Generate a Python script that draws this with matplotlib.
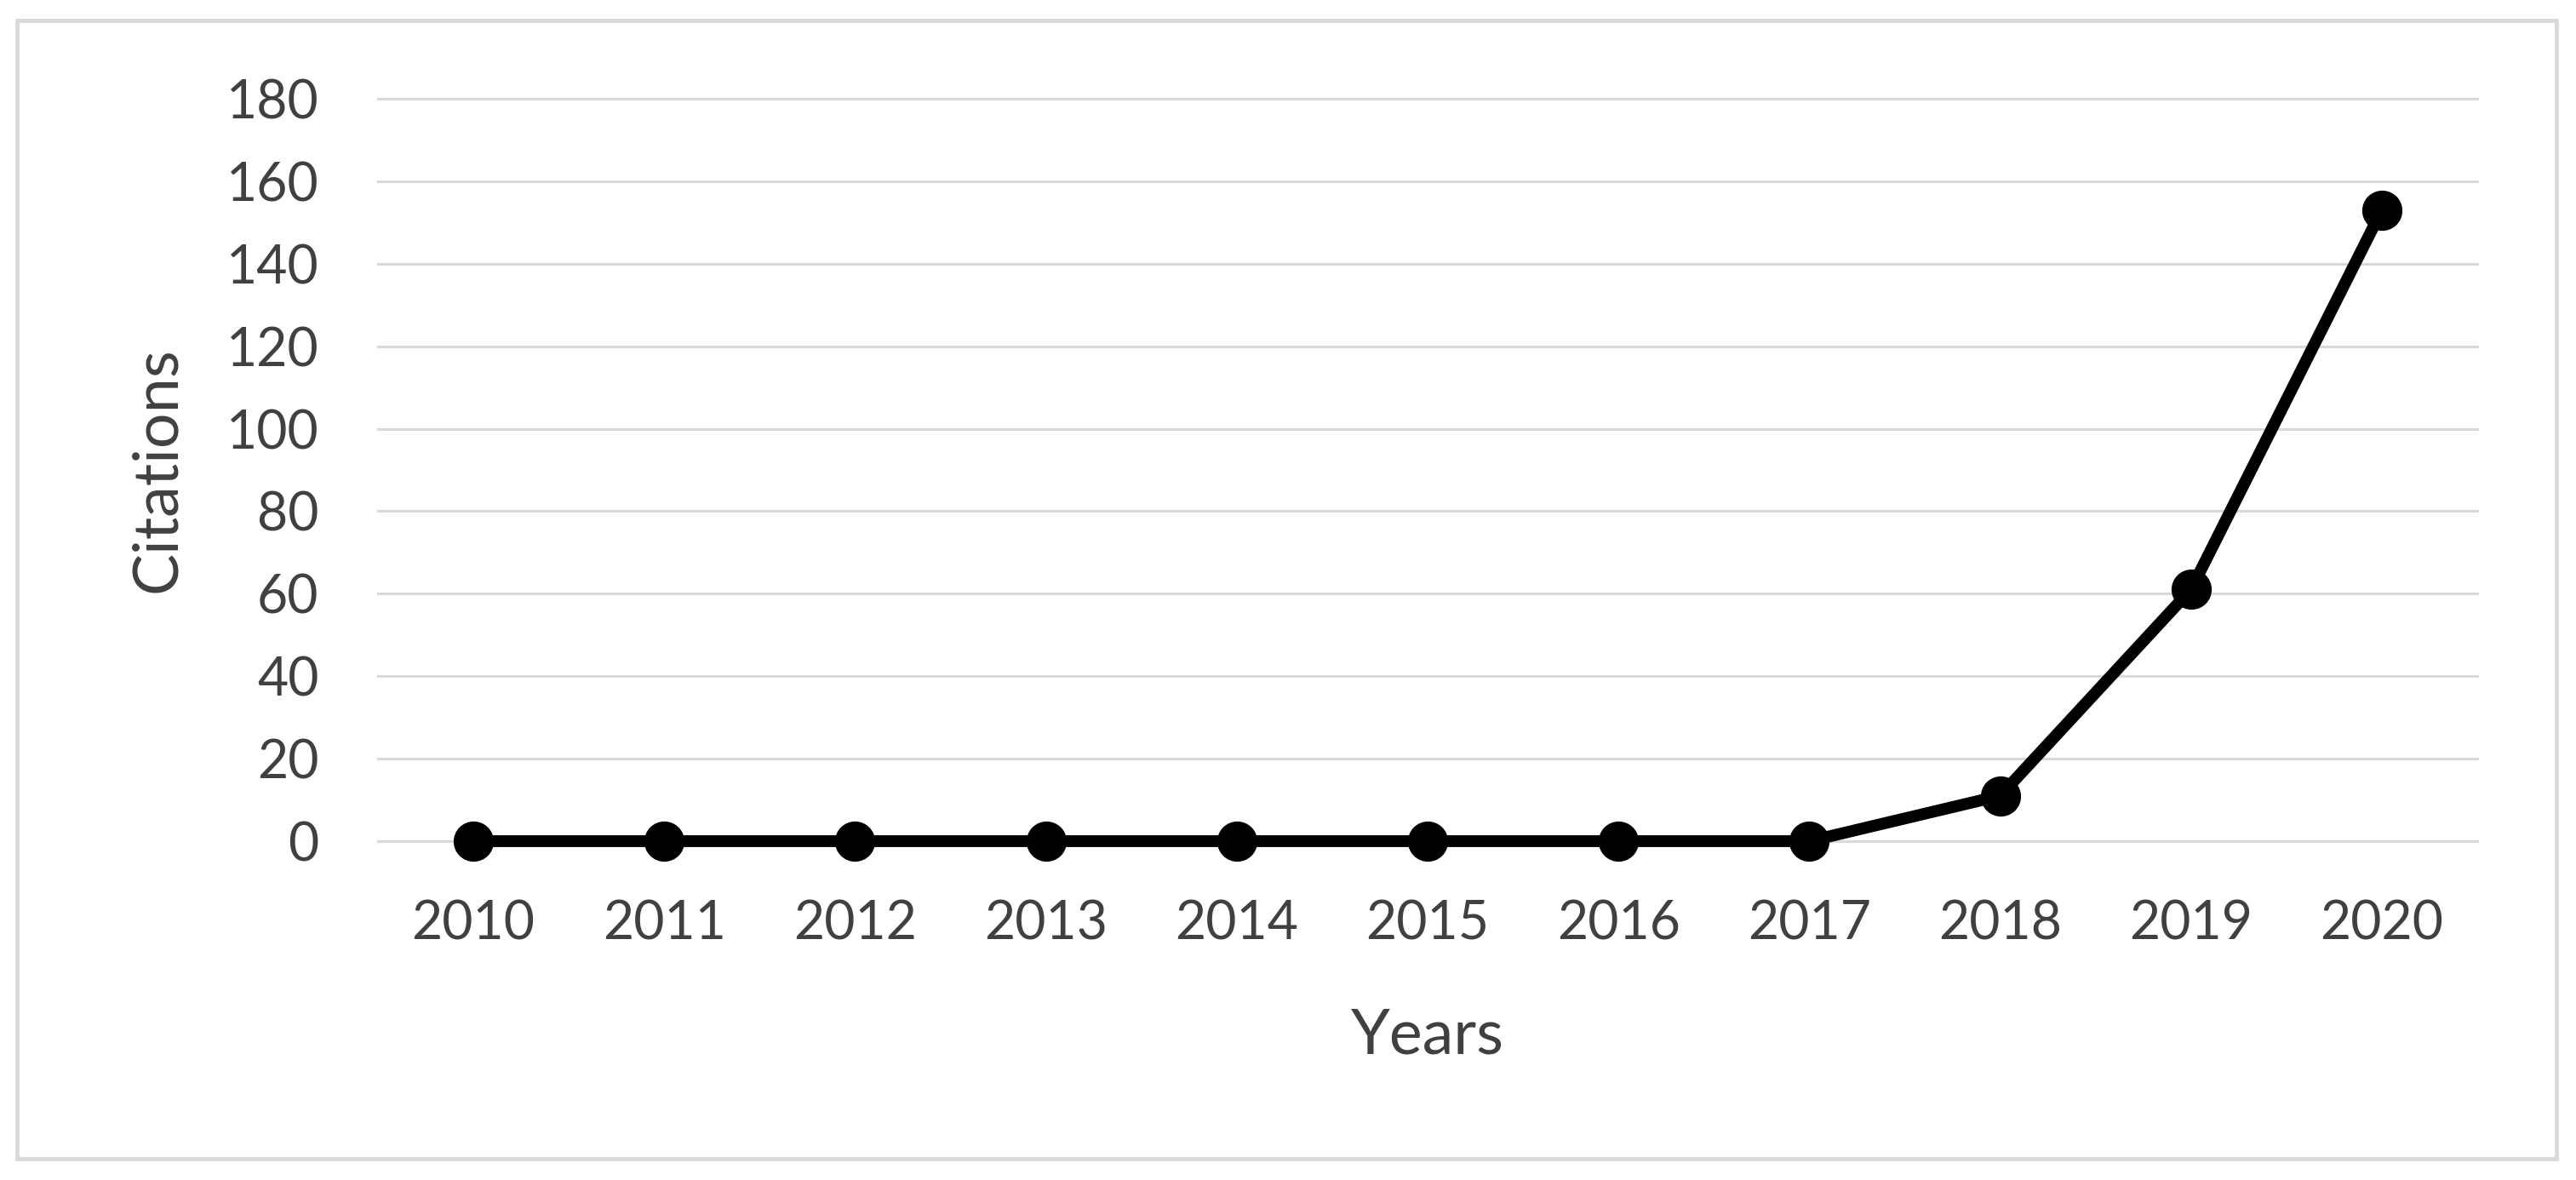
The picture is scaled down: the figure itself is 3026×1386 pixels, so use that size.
import matplotlib.pyplot as plt
from matplotlib.patches import Rectangle

years = ["2010", "2011", "2012", "2013", "2014", "2015", "2016", "2017", "2018", "2019", "2020"]
citations = [0, 0, 0, 0, 0, 0, 0, 0, 11, 61, 153]
y_ticks = [0, 20, 40, 60, 80, 100, 120, 140, 160, 180]

plt.rcParams['font.family'] = ['Lato', 'DejaVu Sans']
text_color = '#404040'
grid_color = '#d9d9d9'

fig = plt.figure(figsize=(30.26, 13.86), dpi=100)
fig.patch.set_facecolor('white')

# chart frame (Excel style)
fig.patches.append(Rectangle((20 / 3026, 1 - 1361 / 1386), (3003 - 20) / 3026, (1361 - 24) / 1386,
                             transform=fig.transFigure, fill=False, edgecolor=grid_color, linewidth=3.5))

ax = fig.add_axes([444 / 3026, 1 - 988 / 1386, (2910 - 444) / 3026, (988 - 116) / 1386])
x = range(len(years))
ax.set_xlim(-0.5, len(years) - 0.5)
ax.set_ylim(0, 180)

for t in y_ticks:
    ax.axhline(t, color=grid_color, linewidth=2.2, zorder=1, clip_on=False)

ax.plot(x, citations, color='black', linewidth=10, marker='o', markersize=33,
        zorder=3, clip_on=False, solid_capstyle='round')

ax.set_xticks(list(x))
ax.set_xticklabels(years)
ax.set_yticks(y_ticks)
ax.tick_params(axis='both', length=0, labelsize=45, labelcolor=text_color)
ax.tick_params(axis='x', pad=49)
ax.tick_params(axis='y', pad=50)
for s in ax.spines.values():
    s.set_visible(False)

ax.set_xlabel('Years', fontsize=53, color=text_color, labelpad=50)
ax.set_ylabel('Citations', fontsize=53, color=text_color, labelpad=34)

fig.savefig('out.png', dpi=100)
